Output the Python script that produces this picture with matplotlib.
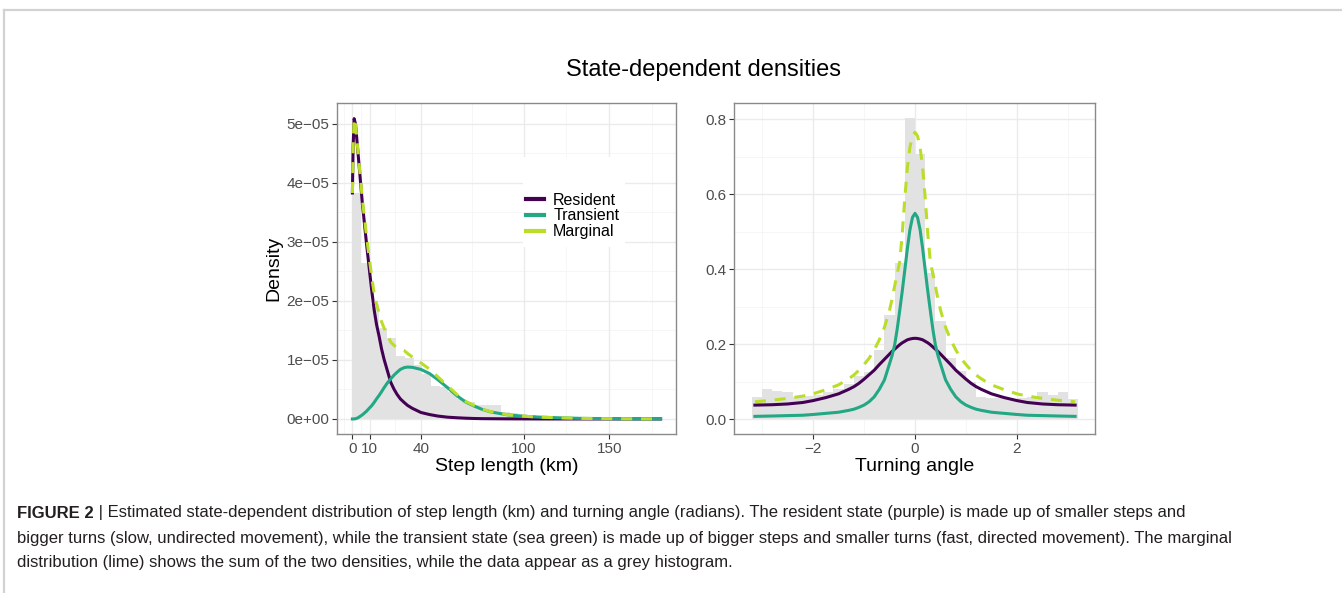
import matplotlib
matplotlib.use("Agg")
import matplotlib.pyplot as plt
from matplotlib.lines import Line2D
from matplotlib.patches import Rectangle

plt.rcParams['font.family'] = ['Liberation Sans', 'DejaVu Sans']

# ---------------- data ----------------
# Step length panel (x in km, density in units of 1e-5)
step_x = [0, 0.4, 1.0, 1.8, 3.3, 5.8, 8.2, 10.1, 11.4, 12.7, 14.1, 15.6, 17.0, 18.5, 20.4, 22.4,
          24.2, 26, 28, 30.2, 32.2, 35, 40, 45, 49.7, 55.6, 61.2, 66, 71, 76, 80.7, 90.5, 100,
          110, 120, 133, 150, 165, 180]
step_resident = [3.83, 4.6, 5.09, 5.0, 4.5, 3.66, 2.98, 2.48, 2.15, 1.85, 1.60, 1.40, 1.19, 1.01,
                 0.82, 0.62, 0.51, 0.42, 0.34, 0.28, 0.23, 0.18, 0.11, 0.075, 0.05, 0.03, 0.02,
                 0.013, 0.008, 0.005, 0.004, 0.002, 0.001, 0, 0, 0, 0, 0, 0]
step_transient = [0, 0, 0.001, 0.003, 0.02, 0.07, 0.13, 0.19, 0.23, 0.28, 0.34, 0.40, 0.46, 0.53,
                  0.61, 0.68, 0.74, 0.79, 0.84, 0.87, 0.88, 0.875, 0.84, 0.77, 0.67, 0.53, 0.39,
                  0.29, 0.22, 0.16, 0.12, 0.07, 0.045, 0.03, 0.02, 0.01, 0.005, 0.002, 0.001]
step_marginal = [3.83, 4.6, 5.09, 5.0, 4.52, 3.73, 3.11, 2.67, 2.38, 2.13, 1.94, 1.80, 1.65, 1.54,
                 1.43, 1.30, 1.25, 1.21, 1.18, 1.16, 1.11, 1.05, 0.95, 0.845, 0.72, 0.56, 0.41,
                 0.30, 0.23, 0.165, 0.124, 0.072, 0.046, 0.03, 0.02, 0.01, 0.005, 0.002, 0.001]
step_bin_edges = [0, 5.1, 10.2, 15.3, 20.4, 25.5, 30.6, 35.7, 40.8, 45.9, 51.0, 56.1, 61.2, 66.3,
                  71.4, 76.5, 81.6, 86.7, 91.8, 96.9, 102.0, 107.1, 112.2, 117.3, 122.4, 127.5,
                  132.6, 137.7, 142.8, 147.9, 153.0, 158.1, 163.2, 168.3, 173.4, 178.5]
step_hist = [3.83, 2.65, 1.95, 1.55, 1.38, 1.07, 1.04, 0.92, 0.76, 0.56, 0.55, 0.45, 0.34, 0.28,
             0.24, 0.24, 0.23, 0.12, 0.10, 0.08, 0.06, 0.05, 0.04, 0.03, 0.02, 0.02, 0.015, 0.01,
             0.01, 0.008, 0.006, 0.005, 0.004, 0.003, 0.002]
step_xticks = [0, 10, 40, 100, 150]
step_xminor = [-5, 5, 25, 70, 125, 175]
step_yticks = [0, 1, 2, 3, 4, 5]
step_ylabels = ["0e+00", "1e\u221205", "2e\u221205", "3e\u221205", "4e\u221205", "5e\u221205"]
step_yminor = [0.5, 1.5, 2.5, 3.5, 4.5]

# Turning angle panel (x in radians)
angle_x = [-3.14, -2.8, -2.5, -2.2, -2.0, -1.75, -1.5, -1.3, -1.2, -1.1, -1.0, -0.9, -0.8, -0.7,
           -0.6, -0.5, -0.45, -0.4, -0.35, -0.3, -0.25, -0.2, -0.15, -0.1, -0.05, 0,
           0.05, 0.1, 0.15, 0.2, 0.25, 0.3, 0.35, 0.4, 0.45, 0.5, 0.6, 0.7, 0.8, 0.9, 1.0, 1.1,
           1.2, 1.3, 1.5, 1.75, 2.0, 2.2, 2.5, 2.8, 3.14]
angle_resident = [0.038, 0.039, 0.041, 0.045, 0.050, 0.058, 0.068, 0.080, 0.087, 0.096, 0.107,
                  0.119, 0.131, 0.146, 0.160, 0.174, 0.181, 0.187, 0.193, 0.199, 0.204, 0.208,
                  0.212, 0.214, 0.2155, 0.216,
                  0.2155, 0.214, 0.212, 0.208, 0.204, 0.199, 0.193, 0.187, 0.181, 0.174, 0.160,
                  0.146, 0.131, 0.119, 0.107, 0.096, 0.087, 0.080, 0.068, 0.058, 0.050, 0.045,
                  0.041, 0.039, 0.038]
angle_transient = [0.008, 0.009, 0.010, 0.011, 0.013, 0.016, 0.019, 0.024, 0.027, 0.032, 0.038,
                   0.047, 0.060, 0.080, 0.105, 0.148, 0.170, 0.198, 0.240, 0.290, 0.342, 0.398,
                   0.455, 0.505, 0.538, 0.549,
                   0.538, 0.505, 0.455, 0.398, 0.342, 0.290, 0.240, 0.198, 0.170, 0.148, 0.105,
                   0.080, 0.060, 0.047, 0.038, 0.032, 0.027, 0.024, 0.019, 0.016, 0.013, 0.011,
                   0.010, 0.009, 0.008]
angle_marginal = [0.047, 0.051, 0.056, 0.062, 0.068, 0.079, 0.092, 0.108, 0.118, 0.131, 0.146,
                  0.163, 0.185, 0.212, 0.245, 0.291, 0.320, 0.355, 0.388, 0.420, 0.495, 0.590,
                  0.670, 0.725, 0.755, 0.765,
                  0.755, 0.725, 0.670, 0.590, 0.495, 0.420, 0.388, 0.355, 0.320, 0.291, 0.245,
                  0.212, 0.185, 0.163, 0.146, 0.131, 0.118, 0.108, 0.092, 0.079, 0.068, 0.062,
                  0.056, 0.051, 0.047]
angle_bin_edges = [-3.2, -3.0, -2.8, -2.6, -2.4, -2.2, -2.0, -1.8, -1.6, -1.4, -1.2, -1.0, -0.8,
                   -0.6, -0.4, -0.2, 0.0, 0.2, 0.4, 0.6, 0.8, 1.0, 1.2, 1.4, 1.6, 1.8, 2.0, 2.2,
                   2.4, 2.6, 2.8, 3.0, 3.2]
angle_hist = [0.060, 0.081, 0.076, 0.074, 0.060, 0.062, 0.066, 0.072, 0.082, 0.095, 0.115, 0.125,
              0.185, 0.278, 0.416, 0.804, 0.707, 0.389, 0.262, 0.163, 0.130, 0.100, 0.059, 0.058,
              0.057, 0.055, 0.056, 0.060, 0.074, 0.065, 0.074, 0.053]
angle_xticks = [-2, 0, 2]
angle_xlabels = ["\u22122", "0", "2"]
angle_xminor = [-3, -1, 1, 3]
angle_yticks = [0.0, 0.2, 0.4, 0.6, 0.8]
angle_ylabels = ["0.0", "0.2", "0.4", "0.6", "0.8"]
angle_yminor = [0.1, 0.3, 0.5, 0.7]

state_names = ["Resident", "Transient", "Marginal"]
state_colors = ["#440154", "#22A884", "#BADE28"]

title = "State-dependent densities"
caption_bold = "FIGURE 2"
caption_lines = [
    " | Estimated state-dependent distribution of step length (km) and turning angle (radians). The resident state (purple) is made up of smaller steps and",
    "bigger turns (slow, undirected movement), while the transient state (sea green) is made up of bigger steps and smaller turns (fast, directed movement). The marginal",
    "distribution (lime) shows the sum of the two densities, while the data appear as a grey histogram.",
]

# ---------------- figure ----------------
W, H = 1342, 593
fig = plt.figure(figsize=(W / 100, H / 100), dpi=100)
fig.patch.set_facecolor("white")

def px_axes(x0, y0, x1, y1):
    return fig.add_axes([x0 / W, 1 - y1 / H, (x1 - x0) / W, (y1 - y0) / H])

AX1 = (337, 103, 676, 434)
ax1 = px_axes(*AX1)
ax2 = px_axes(734, 103, 1095, 434)

LW = 2.2
DASH = (3.6, 2.9)
GRID_MAJ = "#ebebeb"
GRID_MIN = "#f5f5f5"
HIST_C = "#e2e2e2"
TICK_C = "#4d4d4d"

def style(ax, xmaj, xmin, ymaj, ymin):
    ax.set_facecolor("white")
    for v in xmin:
        ax.axvline(v, color=GRID_MIN, lw=0.6, zorder=0)
    for v in ymin:
        ax.axhline(v, color=GRID_MIN, lw=0.6, zorder=0)
    for v in xmaj:
        ax.axvline(v, color=GRID_MAJ, lw=1.0, zorder=0)
    for v in ymaj:
        ax.axhline(v, color=GRID_MAJ, lw=1.0, zorder=0)
    for s in ax.spines.values():
        s.set_color("#8a8a8a")
        s.set_linewidth(1.0)
    ax.tick_params(axis="both", which="major", length=3.5, width=0.8, color="#333333",
                   labelsize=11, labelcolor=TICK_C, pad=2)
    ax.tick_params(axis="both", which="minor", length=0)

# ---- left panel ----
ax1.stairs(step_hist, step_bin_edges, fill=True, color=HIST_C, zorder=1)
ax1.plot(step_x, step_resident, color=state_colors[0], lw=LW, zorder=3)
ax1.plot(step_x, step_transient, color=state_colors[1], lw=LW, zorder=4)
ax1.plot(step_x, step_marginal, color=state_colors[2], lw=LW, zorder=5, dashes=DASH,
         dash_capstyle="butt")
ax1.set_xlim(-9, 189)
ax1.set_ylim(-0.255, 5.355)
ax1.set_xticks(step_xticks)
ax1.set_xticklabels([str(t) for t in step_xticks])
ax1.set_yticks(step_yticks)
ax1.set_yticklabels(step_ylabels)
style(ax1, step_xticks, step_xminor, step_yticks, step_yminor)
ax1.set_xlabel("Step length (km)", fontsize=14, labelpad=2)
ax1.set_ylabel("Density", fontsize=14, labelpad=3)

# legend background box (pixel coords of the reference)
def ax1_frac(px, py):
    x0, y0, x1, y1 = AX1
    return (px - x0) / (x1 - x0), (y1 - py) / (y1 - y0)

bx0, by0 = ax1_frac(523, 247)
bx1, by1 = ax1_frac(625, 157)
ax1.add_patch(Rectangle((bx0, by0), bx1 - bx0, by1 - by0, transform=ax1.transAxes,
                        facecolor="white", edgecolor="none", zorder=6))
handles = [Line2D([0], [0], color=c, lw=3.0) for c in state_colors]
lx, ly = ax1_frac(526, 216)
leg = ax1.legend(handles, state_names, loc="center left", bbox_to_anchor=(lx, ly),
                 frameon=False, fontsize=11.5, handlelength=1.15, handletextpad=0.55,
                 labelspacing=0.05, borderpad=0.0, borderaxespad=0.0)
leg.set_zorder(7)

# ---- right panel ----
ax2.stairs(angle_hist, angle_bin_edges, fill=True, color=HIST_C, zorder=1)
ax2.plot(angle_x, angle_resident, color=state_colors[0], lw=LW, zorder=3)
ax2.plot(angle_x, angle_transient, color=state_colors[1], lw=LW, zorder=4)
ax2.plot(angle_x, angle_marginal, color=state_colors[2], lw=LW, zorder=5, dashes=DASH,
         dash_capstyle="butt")
ax2.set_xlim(-3.55, 3.53)
ax2.set_ylim(-0.039, 0.843)
ax2.set_xticks(angle_xticks)
ax2.set_xticklabels(angle_xlabels)
ax2.set_yticks(angle_yticks)
ax2.set_yticklabels(angle_ylabels)
style(ax2, angle_xticks, angle_xminor, angle_yticks, angle_yminor)
ax2.set_xlabel("Turning angle", fontsize=14, labelpad=2)

# ---- title ----
fig.text(703 / W, 1 - 70 / H, title, ha="center", va="center", fontsize=17, color="black")

# ---- frame lines ----
fig.add_artist(Line2D([4 / W, 1], [1 - 10 / H, 1 - 10 / H], transform=fig.transFigure,
                      color="#d2d2d2", lw=1.6))
fig.add_artist(Line2D([4 / W, 4 / W], [0, 1 - 10 / H], transform=fig.transFigure,
                      color="#d2d2d2", lw=1.6))

# ---- caption ----
cap_size = 12
cap_color = "#231f20"
ys = [513, 538, 562]
tb = fig.text(17 / W, 1 - ys[0] / H, caption_bold, ha="left", va="center", fontsize=cap_size,
              fontweight="bold", color=cap_color)
fig.canvas.draw()
bb = tb.get_window_extent(renderer=fig.canvas.get_renderer())
x_after = bb.x1 / W
fig.text(x_after, 1 - ys[0] / H, caption_lines[0], ha="left", va="center", fontsize=cap_size,
         color=cap_color)
fig.text(17 / W, 1 - ys[1] / H, caption_lines[1], ha="left", va="center", fontsize=cap_size,
         color=cap_color)
fig.text(17 / W, 1 - ys[2] / H, caption_lines[2], ha="left", va="center", fontsize=cap_size,
         color=cap_color)

fig.savefig("out.png", dpi=100, facecolor="white")
